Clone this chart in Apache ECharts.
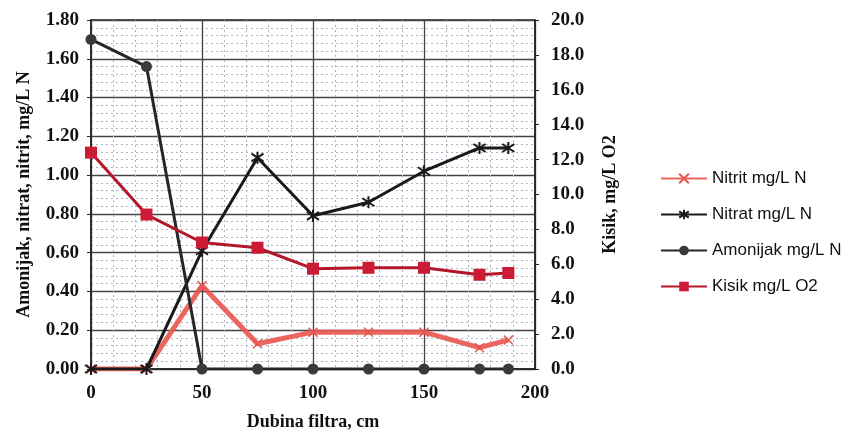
<!DOCTYPE html>
<html>
<head>
<meta charset="utf-8">
<script src="https://cdn.jsdelivr.net/npm/echarts@6/dist/echarts.min.js"></script>
<style>
html,body{margin:0;padding:0;background:#fff;}
#c{width:863px;height:436px;}
</style>
</head>
<body>
<div id="c"></div>
<script>
const depth = [0, 25, 50, 75, 100, 125, 150, 175, 188];
const nitrit = [0, 0, 0.43, 0.13, 0.19, 0.19, 0.19, 0.11, 0.15];
const nitrat = [0, 0, 0.61, 1.09, 0.79, 0.86, 1.02, 1.14, 1.14];
const amonijak = [1.70, 1.56, 0, 0, 0, 0, 0, 0, 0];
const kisik = [12.4, 8.85, 7.25, 6.95, 5.75, 5.8, 5.8, 5.4, 5.5];
const seriesNames = ['Nitrit mg/L N', 'Nitrat mg/L N', 'Amonijak mg/L N', 'Kisik mg/L O2'];

const pair = (xs, ys) => xs.map((x, i) => [x, ys[i]]);
const serif = 'Liberation Serif';

const chart = echarts.init(document.getElementById('c'));
chart.setOption({
  animation: false,
  backgroundColor: '#fff',
  grid: { left: 91, right: 328, top: 20, bottom: 67, show: true, borderColor: '#222', borderWidth: 1.5 },
  legend: {
    orient: 'vertical',
    left: 655,
    top: 165,
    itemGap: 19,
    itemWidth: 46,
    itemHeight: 12,
    textStyle: { fontFamily: 'Liberation Sans', fontSize: 17, color: '#111' },
    data: seriesNames
  },
  xAxis: {
    type: 'value', min: 0, max: 200, interval: 50,
    name: 'Dubina filtra, cm', nameLocation: 'middle', nameGap: 44,
    nameTextStyle: { fontFamily: serif, fontWeight: 'bold', fontSize: 18, color: '#111' },
    axisLine: { show: true, lineStyle: { color: '#222', width: 1.5 } },
    axisTick: { show: false },
    axisLabel: { fontFamily: serif, fontWeight: 'bold', fontSize: 19, color: '#111', margin: 15 },
    splitLine: { show: true, lineStyle: { color: '#444', width: 1.3 } },
    minorTick: { show: false, splitNumber: 5 },
    minorSplitLine: { show: true, lineStyle: { color: '#aab4c4', type: [2, 3], width: 1 } }
  },
  yAxis: [
    {
      type: 'value', min: 0, max: 1.8, interval: 0.2,
      name: 'Amonijak, nitrat, nitrit, mg/L N', nameLocation: 'middle', nameGap: 58,
      nameTextStyle: { fontFamily: serif, fontWeight: 'bold', fontSize: 18, color: '#111' },
      axisLine: { show: true, lineStyle: { color: '#222', width: 1.5 } },
      axisTick: { show: true, length: 4, lineStyle: { color: '#222' } },
      axisLabel: { fontFamily: serif, fontWeight: 'bold', fontSize: 19, color: '#111', margin: 12,
        formatter: v => v.toFixed(2) },
      splitLine: { show: true, lineStyle: { color: '#444', width: 1.3 } },
      minorTick: { show: false, splitNumber: 5 },
      minorSplitLine: { show: true, lineStyle: { color: '#aab4c4', type: [2, 3], width: 1 } }
    },
    {
      type: 'value', min: 0, max: 20, interval: 2,
      name: 'Kisik, mg/L O2', nameLocation: 'middle', nameGap: 66, nameRotate: 90,
      nameTextStyle: { fontFamily: serif, fontWeight: 'bold', fontSize: 18, color: '#111' },
      axisLine: { show: true, lineStyle: { color: '#222', width: 1.5 } },
      axisTick: { show: true, length: 4, lineStyle: { color: '#222' } },
      axisLabel: { fontFamily: serif, fontWeight: 'bold', fontSize: 19, color: '#111', margin: 16,
        formatter: v => v.toFixed(1) },
      splitLine: { show: false }
    }
  ],
  series: [
    {
      name: seriesNames[0], type: 'line', yAxisIndex: 0,
      data: pair(depth, nitrit),
      symbol: 'path://M-5,-5 L5,5 M-5,5 L5,-5', symbolSize: 9,
      lineStyle: { color: '#e8554e', width: 5, opacity: 0.9 },
      itemStyle: { color: '#e8554e', borderColor: '#e8554e', borderWidth: 1.5 },
      z: 3
    },
    {
      name: seriesNames[1], type: 'line', yAxisIndex: 0,
      data: pair(depth, nitrat),
      symbol: 'path://M0,-6 L0,6 M-5,-4 L5,4 M-5,4 L5,-4', symbolSize: 12,
      lineStyle: { color: '#1a1a1a', width: 3 },
      itemStyle: { color: '#1a1a1a', borderColor: '#1a1a1a', borderWidth: 2 },
      z: 4
    },
    {
      name: seriesNames[2], type: 'line', yAxisIndex: 0,
      data: pair(depth, amonijak),
      symbol: 'circle', symbolSize: 11,
      lineStyle: { color: '#262626', width: 3 },
      itemStyle: { color: '#3a3a3a' },
      z: 4
    },
    {
      name: seriesNames[3], type: 'line', yAxisIndex: 1,
      data: pair(depth, kisik),
      symbol: 'rect', symbolSize: 12,
      lineStyle: { color: '#b5172a', width: 3 },
      itemStyle: { color: '#cc1c35' },
      z: 5
    }
  ]
});
</script>
</body>
</html>
